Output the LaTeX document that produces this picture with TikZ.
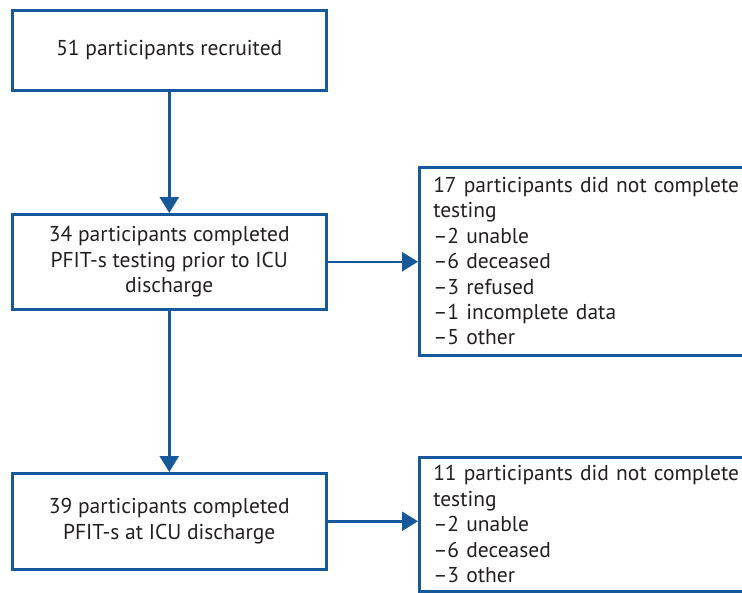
\documentclass[tikz,border=0pt]{standalone}
\usepackage{fontspec}
\setmainfont{PT Sans}
\usetikzlibrary{arrows.meta}
\definecolor{flowblue}{RGB}{22,88,156}
\definecolor{txt}{RGB}{35,31,32}
\begin{document}
\begin{tikzpicture}[x=1pt,y=-1pt,
  box/.style={draw=flowblue, line width=2.5pt, text=txt, font=\fontsize{21.5}{25.4}\selectfont, inner sep=0pt},
  mainbox/.style={box, minimum width=314pt, align=center, anchor=north west},
  sidebox/.style={box, anchor=north west, align=left, text width=340pt, inner xsep=14pt, inner ysep=0pt},
  arr/.style={draw=flowblue, line width=2.5pt, -{Triangle[width=19pt,length=16pt]}}]
\useasboundingbox (0,0) rectangle (742,592);
\node[mainbox, minimum height=80pt] (a) at (11,9) {51 participants recruited};
\node[mainbox, minimum height=95pt] (b) at (11,213) {34 participants completed\\PFIT-s testing prior to ICU\\discharge};
\node[mainbox, minimum height=96pt] (c) at (11,472) {39 participants completed\\PFIT-s at ICU discharge};
\node[sidebox, minimum height=188pt] (d) at (418,166) {17 participants did not complete\\testing\\–2 unable\\–6 deceased\\–3 refused\\–1 incomplete data\\–5 other};
\node[sidebox, minimum height=134pt] (e) at (418,456) {11 participants did not complete\\testing\\–2 unable\\–6 deceased\\–3 other};
\draw[arr] (a.south) -- (b.north);
\draw[arr] (b.south) -- (c.north);
\draw[arr] (b.east) -- (b.east -| d.west);
\draw[arr] (c.east) -- (c.east -| e.west);
\end{tikzpicture}
\end{document}
